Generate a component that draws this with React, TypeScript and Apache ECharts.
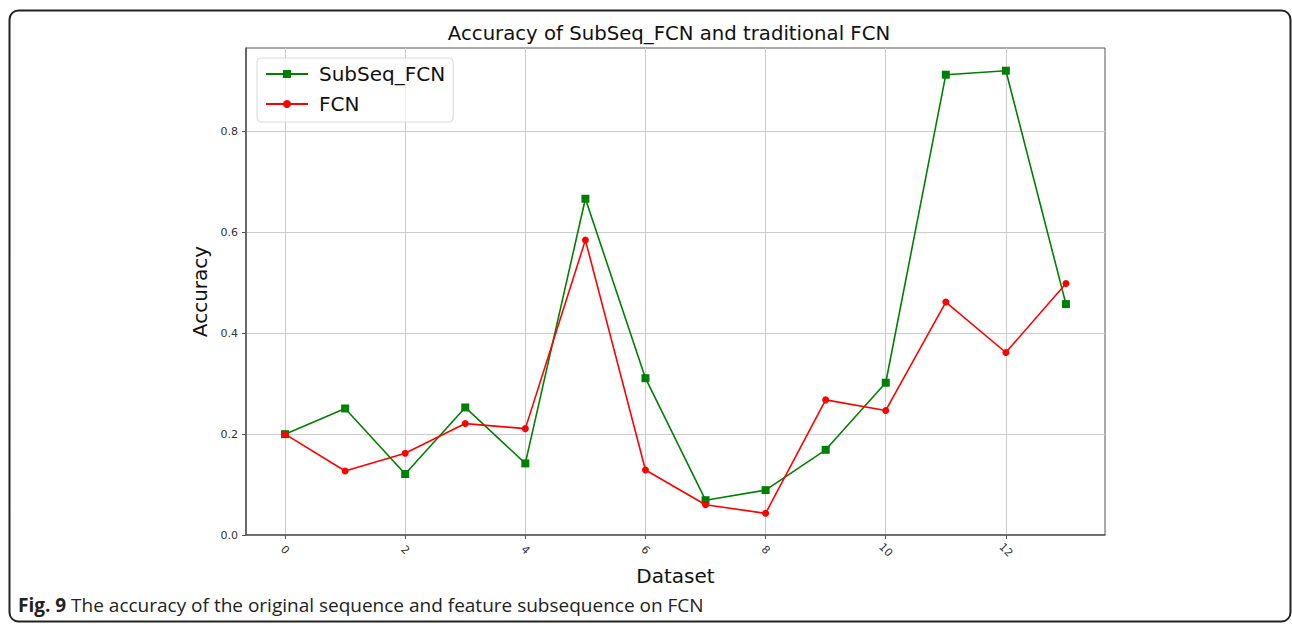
import React, { useEffect, useRef } from "react";
import * as echarts from "echarts";

const datasets = [0, 1, 2, 3, 4, 5, 6, 7, 8, 9, 10, 11, 12, 13];
const subseqFcn = [0.2, 0.251, 0.121, 0.253, 0.142, 0.667, 0.311, 0.069, 0.089, 0.169, 0.302, 0.913, 0.921, 0.458];
const fcn = [0.2, 0.127, 0.162, 0.221, 0.211, 0.585, 0.129, 0.06, 0.043, 0.268, 0.247, 0.462, 0.362, 0.499];
const xTicks = [0, 2, 4, 6, 8, 10, 12];
const yTicks = [0, 0.2, 0.4, 0.6, 0.8];

const FONT = "DejaVu Sans";

export default function App() {
  const ref = useRef<HTMLDivElement>(null);
  useEffect(() => {
    if (!ref.current) return;
    const chart = echarts.init(ref.current, null, { renderer: "svg" });
    chart.setOption({
      animation: false,
      backgroundColor: "#ffffff",
      title: {
        text: "Accuracy of SubSeq_FCN and traditional FCN",
        left: 669,
        top: 23,
        padding: 0,
        textAlign: "center",
        textStyle: { fontFamily: FONT, fontSize: 19.7, fontWeight: "normal", color: "#111" },
      },
      legend: {
        left: 257,
        top: 58,
        orient: "vertical",
        itemGap: 10,
        padding: [6, 8, 8, 8],
        itemWidth: 42,
        itemHeight: 10,
        borderColor: "#d8d8d8",
        borderWidth: 1,
        borderRadius: 4,
        backgroundColor: "rgba(255,255,255,0.8)",
        textStyle: { fontFamily: FONT, fontSize: 20, color: "#111", padding: [0, 0, 0, 6] },
        data: ["SubSeq_FCN", "FCN"],
      },
      grid: {
        left: 246,
        right: 187,
        top: 48,
        bottom: 89,
        show: true,
        borderColor: "#555",
        borderWidth: 1,
        backgroundColor: "transparent",
      },
      xAxis: {
        type: "value",
        min: -0.65,
        max: 13.65,
        name: "Dataset",
        nameLocation: "middle",
        nameGap: 30,
        nameTextStyle: { fontFamily: FONT, fontSize: 20, color: "#111" },
        axisLine: { show: true, onZero: false, lineStyle: { color: "#555", width: 1.5 } },
        axisTick: { show: true, length: 4, customValues: xTicks, lineStyle: { color: "#555" } },
        axisLabel: {
          customValues: xTicks,
          rotate: -45,
          align: "center",
          verticalAlign: "middle",
          margin: 15,
          fontFamily: FONT,
          fontSize: 11,
          color: "#333",
          formatter: (v: number) => String(v),
        },
        splitLine: { show: true, lineStyle: { color: "#cccccc", width: 1 } },
      },
      yAxis: {
        type: "value",
        min: 0,
        max: 0.966,
        name: "Accuracy",
        nameLocation: "middle",
        nameGap: 33,
        nameRotate: 90,
        nameTextStyle: { fontFamily: FONT, fontSize: 20, color: "#111" },
        axisLine: { show: true, onZero: false, lineStyle: { color: "#555", width: 1.5 } },
        axisTick: { show: true, length: 4, customValues: yTicks, lineStyle: { color: "#555" } },
        axisLabel: {
          customValues: yTicks,
          margin: 8,
          fontFamily: FONT,
          fontSize: 11,
          color: "#333",
          formatter: (v: number) => v.toFixed(1),
        },
        splitLine: { show: true, lineStyle: { color: "#cccccc", width: 1 } },
      },
      series: [
        {
          name: "SubSeq_FCN",
          type: "line",
          data: datasets.map((d, i) => [d, subseqFcn[i]]),
          symbol: "rect",
          symbolSize: 8,
          color: "#008000",
          lineStyle: { color: "#008000", width: 1.6 },
          itemStyle: { color: "#008000" },
          z: 3,
        },
        {
          name: "FCN",
          type: "line",
          data: datasets.map((d, i) => [d, fcn[i]]),
          symbol: "circle",
          symbolSize: 7,
          color: "#ff0000",
          lineStyle: { color: "#ff0000", width: 1.6 },
          itemStyle: { color: "#ff0000" },
          z: 4,
        },
      ],
      graphic: [
        {
          type: "rect",
          shape: { x: 9.5, y: 10.5, width: 1281, height: 611, r: 9 },
          style: { fill: "none", stroke: "#222", lineWidth: 2 },
          silent: true,
        },
        {
          type: "text",
          left: 18,
          top: 595,
          style: {
            text: "{b|Fig. 9} The accuracy of the original sequence and feature subsequence on FCN",
            fontFamily: "Open Sans",
            fontSize: 19,
            fill: "#222",
            rich: {
              b: { fontFamily: "Open Sans", fontSize: 19, fontWeight: "bold", fill: "#222" },
            },
          },
        },
      ],
    });
    return () => chart.dispose();
  }, []);
  return <div ref={ref} style={{ position: "fixed", left: 0, top: 0, width: 1292, height: 624 }} />;
}
